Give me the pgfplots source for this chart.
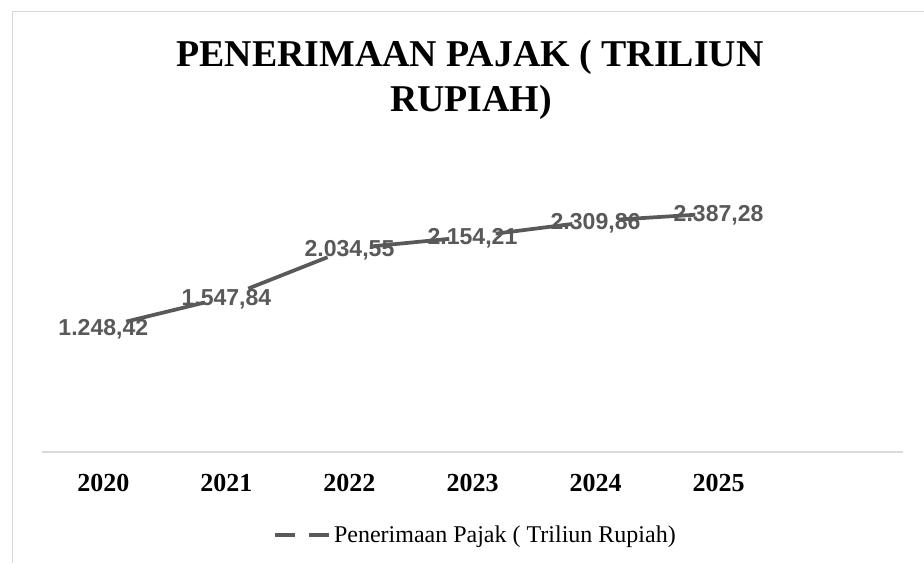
\documentclass[border=0pt]{standalone}
\usepackage{pgfplots}
\pgfplotsset{compat=1.18}
\usepackage{fontspec}
\setmainfont{Liberation Serif}
\newfontfamily\arialfont{Liberation Sans}
\definecolor{lineg}{HTML}{595959}
\definecolor{frameg}{HTML}{D9D9D9}
\begin{document}
\begin{tikzpicture}[x=0.75pt,y=0.75pt]
\useasboundingbox (0,0) rectangle (924,563);
\draw[frameg, line width=0.9pt] (12.3,-5) -- (12.3,551.3) -- (930,551.3);
\node[anchor=base, inner sep=0pt, font=\bfseries\fontsize{28.4}{34}\selectfont] at (470,496) {PENERIMAAN PAJAK ( TRILIUN};
\node[anchor=base, inner sep=0pt, font=\bfseries\fontsize{28.4}{34}\selectfont] at (471,451) {RUPIAH)};
\begin{axis}[
  at={(34,111)}, anchor=south west,
  width=646pt, height=225pt, scale only axis,
  xmin=-0.5, xmax=6.5, ymin=0, ymax=3000,
  axis x line*=bottom, axis y line=none,
  x axis line style={frameg, line width=1pt, -},
  xtick={0,1,2,3,4,5},
  xticklabels={2020,2021,2022,2023,2024,2025},
  major tick length=0pt,
  xticklabel style={anchor=base, yshift=-29.6pt, font=\bfseries\fontsize{19.5}{23}\selectfont},
  clip=false,
  legend style={at={(0.5037,-0.2767)}, anchor=center, draw=none, fill=none,
    font=\fontsize{18}{21}\selectfont, inner sep=0pt},
  legend image code/.code={
    \draw[lineg, line width=2.8pt] (0pt,0pt) -- (15pt,0pt);
    \draw[lineg, line width=2.8pt] (25.5pt,0pt) -- (41pt,0pt);
  },
]
\addplot[lineg, line width=2.8pt, mark=*, mark size=17.5pt,
  mark options={fill=white, draw=white, line width=0.1pt}] table[x=x, y=y] {
x y
0 1248.42
1 1547.84
2 2034.55
3 2154.21
4 2309.86
5 2387.28
};
\addlegendentry{Penerimaan Pajak ( Triliun Rupiah)}
\addplot[draw=none, mark=none, forget plot, nodes near coords,
  point meta=explicit symbolic,
  nodes near coords style={anchor=base, yshift=-6.2pt, text=lineg, inner sep=0pt,
    font=\arialfont\bfseries\fontsize{17.3}{20}\selectfont}]
  table[x=x, y=y, meta=lab] {
x y lab
0 1248.42 1.248,42
1 1547.84 1.547,84
2 2034.55 2.034,55
3 2154.21 2.154,21
4 2309.86 2.309,86
5 2387.28 2.387,28
};
\end{axis}
\end{tikzpicture}
\end{document}
